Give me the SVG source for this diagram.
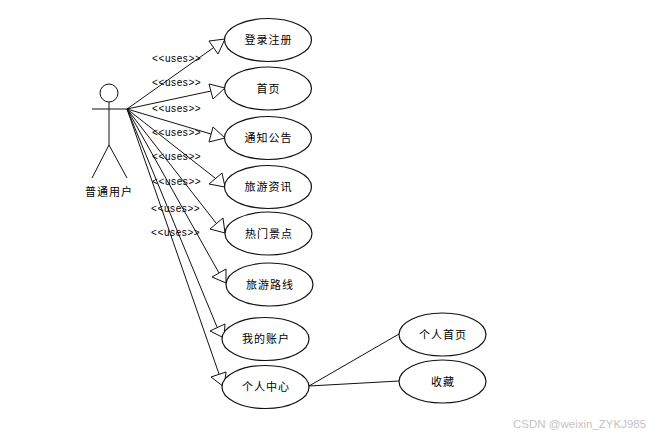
<svg xmlns="http://www.w3.org/2000/svg" width="658" height="438" viewBox="0 0 658 438">
<style>
.s{fill:none;stroke:#111;stroke-width:1}
.a{fill:#fff;stroke:#111;stroke-width:1}
.n{fill:#fff;stroke:#111;stroke-width:1.2}
.t{font-family:"Noto Sans CJK SC","Liberation Sans",sans-serif;font-size:11px;letter-spacing:1px;text-anchor:middle;fill:#000}
.u{font-family:"Liberation Sans",sans-serif;font-size:10px;letter-spacing:.6px;fill:#000}
.w{font-family:"Liberation Sans",sans-serif;font-size:11.5px;fill:#c4c4c4}
</style>
<rect width="658" height="438" fill="#fff"/>
<g id="connectors">
<path class="s" d="M127 109L213 48M127 109L211 91M127 109L211 134M127 109L215 178M127 109L216 223M127 109L219 273M127 109L217 327M127 109L219 374M309 386L399 334M309 386L399 381"/>
<polygon class="a" points="225,39 209,41 218,54"/>
<polygon class="a" points="225,88 209,84 213,99"/>
<polygon class="a" points="225,138 213,127 209,142"/>
<polygon class="a" points="225,187 222,173 209,184"/>
<polygon class="a" points="225,233 210,229 223,218"/>
<polygon class="a" points="226,283 212,277 226,269"/>
<polygon class="a" points="224,338 210,331 225,324"/>
<polygon class="a" points="224,387 211,377 226,372"/>
<text class="u" x="152" y="61.500">&lt;&lt;uses&gt;&gt;</text>
<text class="u" x="152" y="86">&lt;&lt;uses&gt;&gt;</text>
<text class="u" x="152" y="111.500">&lt;&lt;uses&gt;&gt;</text>
<text class="u" x="152" y="135.500">&lt;&lt;uses&gt;&gt;</text>
<text class="u" x="152" y="159.500">&lt;&lt;uses&gt;&gt;</text>
<text class="u" x="152" y="184.500">&lt;&lt;uses&gt;&gt;</text>
<text class="u" x="151" y="211.500">&lt;&lt;uses&gt;&gt;</text>
<text class="u" x="151" y="235.500">&lt;&lt;uses&gt;&gt;</text>
</g>
<g id="actor">
<circle class="s" cx="109" cy="93" r="9"/>
<path class="s" d="M109 102V145M92 109H127M109 145L92 178M109 145L127 178"/>
<text class="t" x="109" y="196">普通用户</text>
</g>
<g id="n1"><ellipse class="n" cx="268" cy="40" rx="43.500" ry="21.500"/><text class="t" x="268.500" y="44">登录注册</text></g>
<g id="n2"><ellipse class="n" cx="268" cy="88.500" rx="43.500" ry="21.500"/><text class="t" x="268.500" y="92.500">首页</text></g>
<g id="n3"><ellipse class="n" cx="268" cy="138" rx="43.500" ry="21.500"/><text class="t" x="268.500" y="142">通知公告</text></g>
<g id="n4"><ellipse class="n" cx="268" cy="187" rx="43.500" ry="21.500"/><text class="t" x="268.500" y="191">旅游资讯</text></g>
<g id="n5"><ellipse class="n" cx="268.500" cy="233.500" rx="43.500" ry="21.500"/><text class="t" x="269" y="237.500">热门景点</text></g>
<g id="n6"><ellipse class="n" cx="269.500" cy="284.500" rx="43.500" ry="21.500"/><text class="t" x="270" y="288.500">旅游路线</text></g>
<g id="n7"><ellipse class="n" cx="265.500" cy="339" rx="43.500" ry="21.500"/><text class="t" x="266" y="343">我的账户</text></g>
<g id="n8"><ellipse class="n" cx="265.500" cy="387" rx="43.500" ry="21.500"/><text class="t" x="266" y="391">个人中心</text></g>
<g id="n9"><ellipse class="n" cx="442.500" cy="334.500" rx="43.500" ry="21.500"/><text class="t" x="443" y="338.500">个人首页</text></g>
<g id="n10"><ellipse class="n" cx="442.500" cy="381.500" rx="43.500" ry="21.500"/><text class="t" x="443" y="385.500">收藏</text></g>
<text class="w" x="513" y="428">CSDN @weixin_ZYKJ985</text>
</svg>
